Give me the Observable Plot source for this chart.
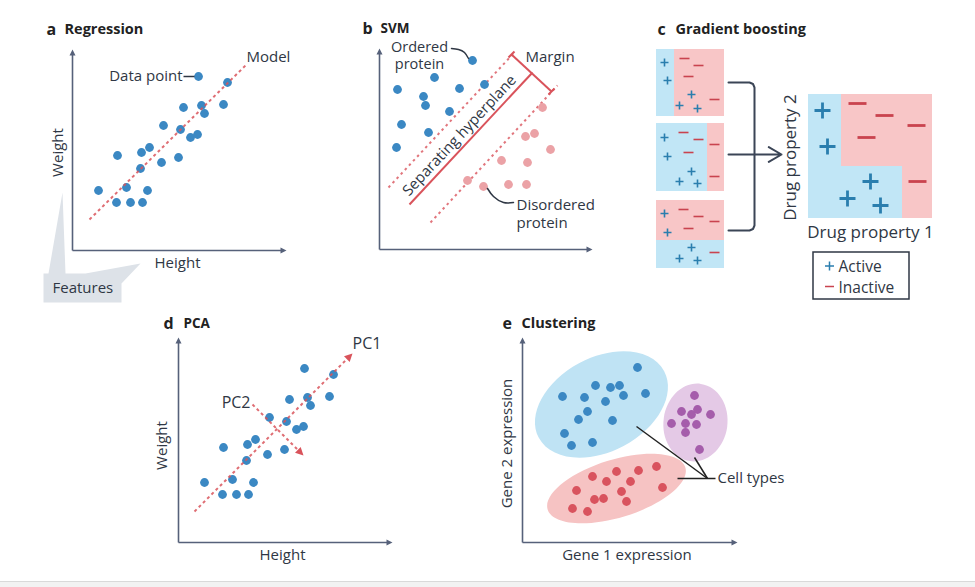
<!DOCTYPE html>
<html><head><meta charset="utf-8">
<script src="https://cdn.jsdelivr.net/npm/d3@7"></script>
<script src="https://cdn.jsdelivr.net/npm/@observablehq/plot@0.6"></script>
<style>
body{margin:0;background:#fff;}
#fig{position:relative;width:975px;height:587px;overflow:hidden;background:#fff;font-family:"Open Sans",sans-serif;}
#fig svg{position:absolute;}
#foot{position:absolute;left:0;top:581px;width:975px;height:6px;background:#f2f2f2;border-top:1px solid #d9d9d9;}
</style></head><body><div id="fig"><div id="foot"></div></div>
<script>
// ---------- DATA ----------
// a & d: samples (Height, Weight) in panel units
const sampleHeight = [126,155,111,129,151,132,91,108,118,125,45,69,77,89,106,68,26,54,75,44,58,70];
const sampleWeight = [174,168,143,145,146,137,125,121,113,116,95,98,103,88,93,82,60,63,60,48,48,48];
const modelLine = [{x1:17, y1:31, x2:175, y2:187}];
const pc1 = [{x1:16, y1:31, x2:170, y2:185}];
const pc2 = [{x1:74, y1:138, x2:122, y2:90}];
const featuresShape = [[-29,-23],[-24,-23],[-10,58],[-7,-23],[13,-23],[68,-13],[49,-33],[49,-52],[-29,-52]];

// b: SVM
const orderedX = [93,55,18,80,105,44,46,70,22,49,17];
const orderedY = [189,172,160,161,165,153,144,138,125,117,102];
const disorderedX = [163,146,155,171,122,148,88,104,129,147];
const disorderedY = [142,113,116,100,89,87,69,63,65,65];
const hyperplane = [{x1:30, y1:45, x2:153, y2:177}];
const marginLines = [{x1:9, y1:62, x2:134, y2:196}, {x1:51, y1:27, x2:178, y2:164}];
const marginBracket = [{x1:132, y1:195, x2:172, y2:158}, {x1:129, y1:192, x2:135, y2:198}, {x1:169, y1:155, x2:175, y2:161}];
const orderedLeader = [[72,201],[79,200],[85,197],[89,191]];
const disorderedLeader = [[134,47],[124,47],[114,53],[108,61]];

// c: gradient boosting
const boxTops = [49, 123, 200];
const regions = [
  {x1:16, x2:34, y1:49, y2:116, cls:"active"}, {x1:34, x2:84, y1:49, y2:116, cls:"inactive"},
  {x1:16, x2:67, y1:123, y2:191, cls:"active"}, {x1:67, x2:84, y1:123, y2:191, cls:"inactive"},
  {x1:16, x2:84, y1:200, y2:240, cls:"inactive"}, {x1:16, x2:84, y1:240, y2:268, cls:"active"},
  {x1:168, x2:201, y1:94, y2:218, cls:"active"}, {x1:201, x2:262, y1:166, y2:218, cls:"active"},
  {x1:201, x2:292, y1:94, y2:166, cls:"inactive"}, {x1:262, x2:292, y1:166, y2:218, cls:"inactive"}
];
const weakSigns = [
  {box:0,dx:8,dy:13,cls:"active"},{box:0,dx:11,dy:31,cls:"active"},{box:0,dx:35,dy:45,cls:"active"},{box:0,dx:23,dy:56,cls:"active"},{box:0,dx:41,dy:59,cls:"active"},
  {box:0,dx:28,dy:9,cls:"inactive"},{box:0,dx:42,dy:16,cls:"inactive"},{box:0,dx:32,dy:27,cls:"inactive"},{box:0,dx:58,dy:50,cls:"inactive"},
  {box:1,dx:8,dy:14,cls:"active"},{box:1,dx:11,dy:33,cls:"active"},{box:1,dx:35,dy:48,cls:"active"},{box:1,dx:23,dy:58,cls:"active"},{box:1,dx:41,dy:60,cls:"active"},
  {box:1,dx:27,dy:9,cls:"inactive"},{box:1,dx:42,dy:16,cls:"inactive"},{box:1,dx:58,dy:21,cls:"inactive"},{box:1,dx:32,dy:29,cls:"inactive"},{box:1,dx:58,dy:53,cls:"inactive"},
  {box:2,dx:8,dy:13,cls:"active"},{box:2,dx:11,dy:32,cls:"active"},{box:2,dx:35,dy:47,cls:"active"},{box:2,dx:23,dy:58,cls:"active"},{box:2,dx:41,dy:60,cls:"active"},
  {box:2,dx:27,dy:9,cls:"inactive"},{box:2,dx:42,dy:16,cls:"inactive"},{box:2,dx:58,dy:21,cls:"inactive"},{box:2,dx:32,dy:28,cls:"inactive"},{box:2,dx:58,dy:52,cls:"inactive"}
];
const ensembleActiveX = [182,187,230,207,240];
const ensembleActiveY = [110,146,181,198,205];
const ensembleInactiveX = [217,244,276,226,277];
const ensembleInactiveY = [103,115,125,137,181];
const legendLabels = ["Active", "Inactive"];
const bracketPath = [[88,82],[109,82],[112.5,83.5],[114,87],[114,225],[112.5,228.5],[109,230],[88,230]];

// e: clustering
const clusterBlueX = [115,73,88,97,40,62,101,123,83,65,56,90,42,49,70];
const clusterBlueY = [175,157,155,157,146,145,147,149,141,131,123,122,109,97,100];
const clusterPurpleX = [172,159,169,175,188,149,163,174,163,177];
const clusterPurpleY = [147,131,128,133,128,119,119,118,110,93];
const clusterRedX = [134,116,94,70,108,84,54,99,140,72,81,104,50,65];
const clusterRedY = [76,72,71,66,61,61,52,51,55,43,44,41,34,31];
const clusterEllipses = [
  {cx:79, cy:138, rx:71, ry:47, angle:-28},
  {cx:173, cy:120, rx:32, ry:39, angle:8},
  {cx:94, cy:54, rx:72, ry:29, angle:-17}
];
const cellLeaders = [{x1:114,y1:116,x2:185,y2:64},{x1:172,y1:85,x2:185,y2:64},{x1:155,y1:64,x2:193,y2:64}];

// ---------- STYLE ----------
const INK = "#2f3744", AXIS = "#56617a", BLUE = "#3b88c3", RED = "#d9535b";
const PINKDOT = "#eba2a6", PURPLE = "#a55dab", REDDOT = "#d9535e";
const ACTIVE_BG = "#c1e6f6", INACTIVE_BG = "#f8c6c7", PLUS = "#2a7eae", MINUS = "#c9434f";
const FONT = "'Open Sans', sans-serif";

// ---------- HELPERS ----------
function ellipseSymbol(rx, ry, deg) {
  const t = deg * Math.PI / 180, c = Math.cos(t), s = Math.sin(t), k = 0.5523;
  const P = (x, y) => [x * c - y * s, x * s + y * c];
  return {draw(ctx) {
    ctx.moveTo(...P(rx, 0));
    ctx.bezierCurveTo(...P(rx, k*ry), ...P(k*rx, ry), ...P(0, ry));
    ctx.bezierCurveTo(...P(-k*rx, ry), ...P(-rx, k*ry), ...P(-rx, 0));
    ctx.bezierCurveTo(...P(-rx, -k*ry), ...P(-k*rx, -ry), ...P(0, -ry));
    ctx.bezierCurveTo(...P(k*rx, -ry), ...P(rx, -k*ry), ...P(rx, 0));
    ctx.closePath();
  }};
}
function headSymbol(len, hw, deg) {
  const t = deg * Math.PI / 180, c = Math.cos(t), s = Math.sin(t);
  const P = (x, y) => [x * c - y * s, x * s + y * c];
  return {draw(ctx) { ctx.moveTo(0, 0); ctx.lineTo(...P(-len, hw)); ctx.lineTo(...P(-len, -hw)); ctx.closePath(); }};
}
function barSymbol(w, t, cross) {
  return {draw(ctx) { ctx.rect(-w/2, -t/2, w, t); if (cross) ctx.rect(-t/2, -w/2, t, w); }};
}
const lab = (t, x, y, o = {}) => Plot.text([t], {x: [x], y: [y], text: [t], fill: INK, fontSize: 15, textAnchor: "start", ...o});
const title = (letter, name, x, xName, y, nameOpts = {}) => [
  lab(letter, x, y, {fontSize: 16, fontWeight: "bold", fill: "#222"}),
  lab(name, xName, y, {fontSize: 14.5, fontWeight: "bold", fill: "#222", ...nameOpts})
];
const axes = (xMax, yMax) => [
  Plot.link([{x1:0,y1:0,x2:xMax-4,y2:0},{x1:0,y1:0,x2:0,y2:yMax-4}], {x1:"x1",y1:"y1",x2:"x2",y2:"y2", stroke: AXIS, strokeWidth: 1.6}),
  Plot.dot([{x:xMax,y:0}], {x:"x", y:"y", symbol: headSymbol(6, 3, 0), fill: AXIS, stroke: "none"}),
  Plot.dot([{x:0,y:yMax}], {x:"x", y:"y", symbol: headSymbol(6, 3, -90), fill: AXIS, stroke: "none"})
];
const fig = document.getElementById("fig");
function panel(frame, marks) {
  const {left, top, width, height, x, y, yDown} = frame;
  const svg = Plot.plot({
    width, height, marginTop: 0, marginRight: 0, marginBottom: 0, marginLeft: 0,
    x: {domain: x, range: [0, width], axis: null},
    y: {domain: y, range: yDown ? [0, height] : [height, 0], axis: null},
    color: {domain: ["active", "inactive"], range: [ACTIVE_BG, INACTIVE_BG]},
    style: {fontFamily: FONT, background: "transparent", overflow: "visible", color: INK},
    marks
  });
  svg.style.left = left + "px"; svg.style.top = top + "px";
  fig.appendChild(svg);
}
const samples = sampleHeight.map((h, i) => ({h, w: sampleWeight[i]}));
const pts = (xs, ys) => xs.map((x, i) => ({x, y: ys[i]}));

// ---------- a Regression ----------
panel({left: 0, top: 0, width: 330, height: 310, x: [-72, 258], y: [-60, 250]}, [
  Plot.line(featuresShape, {x: d => d[0], y: d => d[1], fill: "#dde2e8", stroke: "none"}),
  ...axes(214, 201),
  Plot.dot(samples, {x: "h", y: "w", r: 4.4, fill: BLUE, stroke: "none"}),
  Plot.link(modelLine, {x1:"x1",y1:"y1",x2:"x2",y2:"y2", stroke: RED, strokeWidth: 2, strokeDasharray: "3,3", strokeOpacity: 0.85}),
  Plot.link([{x1:111,y1:174,x2:122,y2:174}], {x1:"x1",y1:"y1",x2:"x2",y2:"y2", stroke: INK, strokeWidth: 1.5}),
  ...title("a", "Regression", -26, -8, 221),
  lab("Model", 174, 193),
  lab("Data point", 110, 174, {textAnchor: "end"}),
  lab("Weight", -14, 98, {rotate: -90, textAnchor: "middle"}),
  lab("Height", 105, -13, {textAnchor: "middle"}),
  lab("Features", -20, -38)
]);

// ---------- b SVM ----------
panel({left: 330, top: 0, width: 310, height: 260, x: [-49, 261], y: [-11, 249]}, [
  ...axes(213, 201),
  Plot.link(marginLines, {x1:"x1",y1:"y1",x2:"x2",y2:"y2", stroke: RED, strokeWidth: 2, strokeDasharray: "2.5,3.5", strokeOpacity: 0.8}),
  Plot.link(hyperplane, {x1:"x1",y1:"y1",x2:"x2",y2:"y2", stroke: RED, strokeWidth: 2}),
  Plot.link(marginBracket, {x1:"x1",y1:"y1",x2:"x2",y2:"y2", stroke: RED, strokeWidth: 2}),
  Plot.dot(pts(orderedX, orderedY), {x: "x", y: "y", r: 4.4, fill: BLUE, stroke: "none"}),
  Plot.dot(pts(disorderedX, disorderedY), {x: "x", y: "y", r: 4.4, fill: PINKDOT, stroke: "none"}),
  Plot.line(orderedLeader, {x: d => d[0], y: d => d[1], curve: "natural", stroke: INK, strokeWidth: 1.5}),
  Plot.line(disorderedLeader, {x: d => d[0], y: d => d[1], curve: "natural", stroke: INK, strokeWidth: 1.5}),
  ...title("b", "SVM", -17, 1, 221, {fontSize: 13.5}),
  lab("Ordered\nprotein", 40, 194.5, {textAnchor: "middle", fontSize: 14.5, lineHeight: 1.2}),
  lab("Margin", 146, 192),
  lab("Separating hyperplane", 80, 114, {rotate: -47, textAnchor: "middle"}),
  lab("Disordered\nprotein", 137, 36.5, {lineHeight: 1.25})
]);

// ---------- c Gradient boosting ----------
const weakTable = weakSigns.map(d => ({x: 16 + d.dx, y: boxTops[d.box] + d.dy, cls: d.cls}));
panel({left: 640, top: 0, width: 335, height: 310, x: [0, 335], y: [0, 310], yDown: true}, [
  Plot.rect(regions, {x1: "x1", x2: "x2", y1: "y1", y2: "y2", fill: "cls"}),
  Plot.dot(weakTable.filter(d => d.cls === "active"), {x: "x", y: "y", symbol: barSymbol(8, 1.6, true), fill: PLUS, stroke: "none"}),
  Plot.dot(weakTable.filter(d => d.cls === "inactive"), {x: "x", y: "y", symbol: barSymbol(10, 1.6, false), fill: MINUS, stroke: "none"}),
  Plot.dot(pts(ensembleActiveX, ensembleActiveY), {x: "x", y: "y", symbol: barSymbol(16, 2.8, true), fill: PLUS, stroke: "none"}),
  Plot.dot(pts(ensembleInactiveX, ensembleInactiveY), {x: "x", y: "y", symbol: barSymbol(18, 2.8, false), fill: MINUS, stroke: "none"}),
  Plot.line(bracketPath, {x: d => d[0], y: d => d[1], stroke: "#3b4556", strokeWidth: 2}),
  Plot.arrow([{x1: 88, y1: 154, x2: 141, y2: 154}], {x1:"x1",y1:"y1",x2:"x2",y2:"y2", stroke: "#3b4556", strokeWidth: 2, headLength: 11}),
  ...title("c", "Gradient boosting", 17, 35, 29),
  lab("Drug property 2", 150, 157, {rotate: -90, textAnchor: "middle", fontSize: 17}),
  lab("Drug property 1", 230, 232, {textAnchor: "middle", fontSize: 17}),
  Plot.rect([{x1: 173, x2: 269, y1: 252, y2: 299}], {x1: "x1", x2: "x2", y1: "y1", y2: "y2", fill: "white", stroke: INK, strokeWidth: 1.5}),
  Plot.dot([{x: 189, y: 265.5}], {x: "x", y: "y", symbol: barSymbol(9, 1.5, true), fill: PLUS, stroke: "none"}),
  Plot.dot([{x: 189, y: 286}], {x: "x", y: "y", symbol: barSymbol(9, 1.5, false), fill: MINUS, stroke: "none"}),
  lab(legendLabels.join("\n"), 198, 275.5, {fontSize: 15.5, lineHeight: 1.33})
]);

// ---------- d PCA ----------
panel({left: 150, top: 300, width: 260, height: 287, x: [-28, 232], y: [-45, 242]}, [
  ...axes(214, 205),
  Plot.dot(samples, {x: "h", y: "w", r: 4.4, fill: BLUE, stroke: "none"}),
  Plot.link(pc1, {x1:"x1",y1:"y1",x2:"x2",y2:"y2", stroke: RED, strokeWidth: 2, strokeDasharray: "3,3", strokeOpacity: 0.85}),
  Plot.link(pc2, {x1:"x1",y1:"y1",x2:"x2",y2:"y2", stroke: RED, strokeWidth: 2, strokeDasharray: "3,3", strokeOpacity: 0.85}),
  Plot.dot([{x: 174, y: 189}], {x: "x", y: "y", symbol: headSymbol(8, 4, -45), fill: RED, stroke: "none"}),
  Plot.dot([{x: 125, y: 87}], {x: "x", y: "y", symbol: headSymbol(8, 4, 45), fill: RED, stroke: "none"}),
  ...title("d", "PCA", -15, 5, 219, {fontSize: 13.5}),
  lab("PC1", 174, 199, {fontSize: 16}),
  lab("PC2", 72, 140, {fontSize: 16, textAnchor: "end"}),
  lab("Weight", -16, 97, {rotate: -90, textAnchor: "middle"}),
  lab("Height", 104, -13, {textAnchor: "middle"})
]);

// ---------- e Clustering ----------
const ellipseFills = ["#bfe3f4", "#e4c9e6", "#f6c3c3"];
panel({left: 480, top: 300, width: 300, height: 287, x: [-42, 258], y: [-45, 242]}, [
  ...axes(215, 205),
  ...clusterEllipses.map((e, i) => Plot.dot([e], {x: "cx", y: "cy", symbol: ellipseSymbol(e.rx, e.ry, e.angle), fill: ellipseFills[i], stroke: "none"})),
  Plot.link(cellLeaders, {x1:"x1",y1:"y1",x2:"x2",y2:"y2", stroke: "#222", strokeWidth: 1.5}),
  Plot.dot(pts(clusterBlueX, clusterBlueY), {x: "x", y: "y", r: 4.4, fill: BLUE, stroke: "none"}),
  Plot.dot(pts(clusterPurpleX, clusterPurpleY), {x: "x", y: "y", r: 4.4, fill: PURPLE, stroke: "none"}),
  Plot.dot(pts(clusterRedX, clusterRedY), {x: "x", y: "y", r: 4.4, fill: REDDOT, stroke: "none"}),
  ...title("e", "Clustering", -20, -1, 219),
  lab("Gene 2 expression", -15, 99, {rotate: -90, textAnchor: "middle"}),
  lab("Gene 1 expression", 104.5, -13, {textAnchor: "middle"}),
  lab("Cell types", 195, 64)
]);
</script></body></html>
